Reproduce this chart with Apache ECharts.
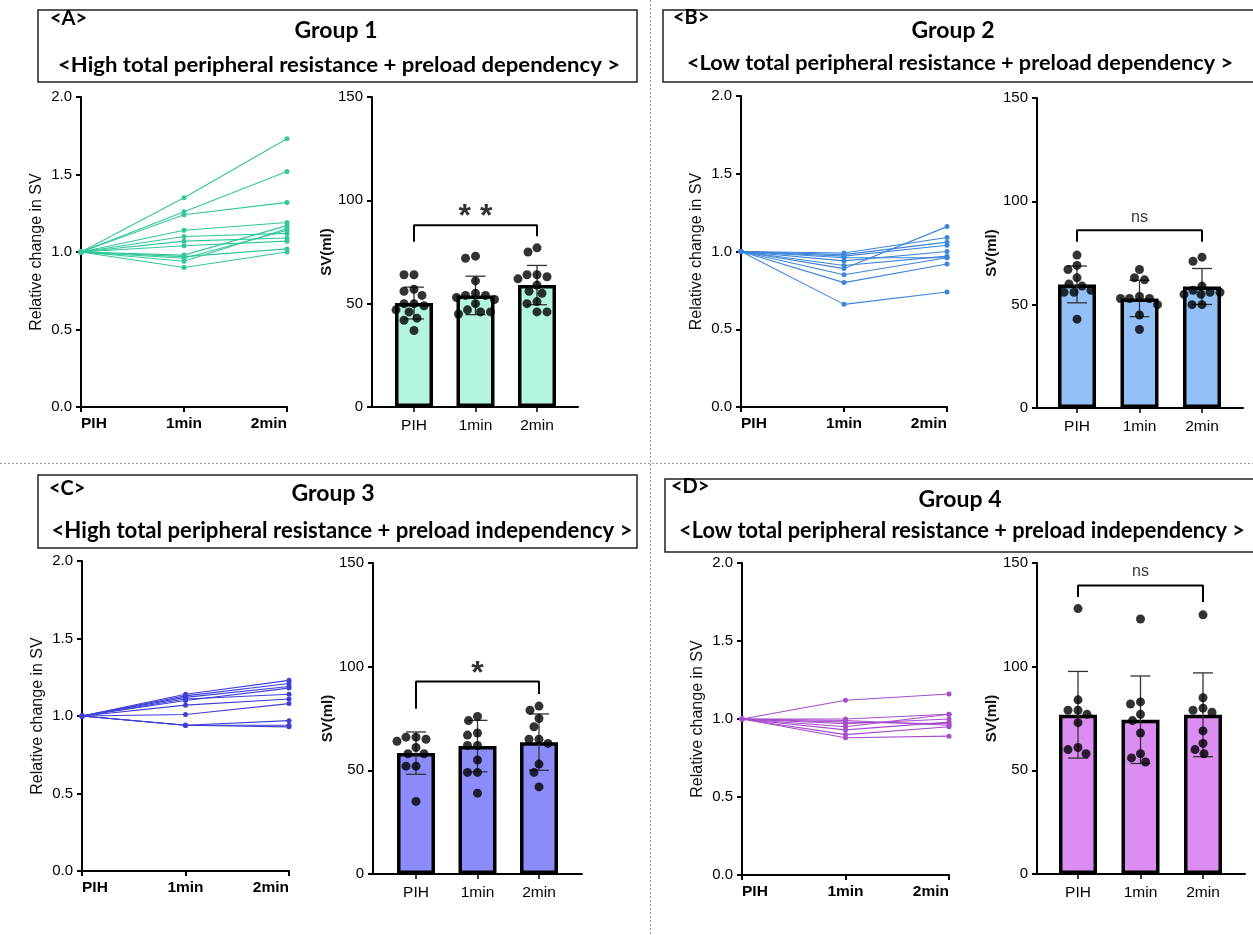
<!DOCTYPE html>
<html><head><meta charset="utf-8">
<script src="https://cdn.jsdelivr.net/npm/echarts@6/dist/echarts.min.js"></script>
<style>html,body{margin:0;padding:0;background:#fff}#c{width:1253px;height:935px}</style>
</head><body><div id="c"></div>
<script>
// ---------- DATA ----------
const timeCategories = ['PIH', '1min', '2min'];
const relTicks = [0, 0.5, 1.0, 1.5, 2.0];
const svTicks = [0, 50, 100, 150];

// Group 1 (A)
const g1Relative = [
  [1, 1.35, 1.73], [1, 1.26, 1.52], [1, 1.24, 1.32], [1, 1.14, 1.19],
  [1, 1.10, 1.12], [1, 1.07, 1.09], [1, 1.04, 1.07], [1, 0.98, 1.17],
  [1, 0.97, 1.02], [1, 0.96, 1.14], [1, 0.94, 1.15], [1, 0.90, 1.00]
];
const g1Means = [50.3, 54.0, 59.0];
const g1SD = [7.7, 9.3, 9.5];
const g1PIH = [64, 64, 57, 56, 54, 50, 50, 49, 47, 46, 43, 42, 37];
const g1Min1 = [73, 72, 61, 55, 54, 54, 53, 52, 50, 47, 46, 46, 45];
const g1Min2 = [77, 75, 64, 64, 63, 62, 59, 56, 55, 51, 50, 46, 46];
const g1Bracket = [80, 88, 82.6];
const g1Sig = '**';
const g1SigY = 95;

// Group 2 (B)
const g2Relative = [
  [1, 0.99, 1.09], [1, 0.98, 1.06], [1, 0.97, 1.04], [1, 0.96, 0.96],
  [1, 0.94, 1.00], [1, 0.91, 0.97], [1, 0.89, 1.16], [1, 0.85, 0.96],
  [1, 0.80, 0.92], [1, 0.66, 0.74]
];
const g2Means = [59.8, 53.0, 58.8];
const g2SD = [8.9, 8.8, 8.7];
const g2PIH = [74, 69, 67, 63, 60, 59, 57, 56, 56, 43];
const g2Min1 = [67, 63, 62, 54, 53, 53, 53, 50, 45, 38];
const g2Min2 = [73, 71, 59, 57, 56, 56, 55, 55, 50, 50];
const g2Bracket = [80.5, 86, 80.5];
const g2Sig = 'ns';
const g2SigY = 92;

// Group 3 (C)
const g3Relative = [
  [1, 1.14, 1.23], [1, 1.13, 1.21], [1, 1.12, 1.19], [1, 1.11, 1.14],
  [1, 1.10, 1.18], [1, 1.07, 1.11], [1, 1.01, 1.08], [1, 0.94, 0.97],
  [1, 0.94, 0.94], [1, 0.94, 0.93]
];
const g3Means = [58.3, 61.7, 63.6];
const g3SD = [10.2, 12.4, 13.6];
const g3PIH = [66, 66, 65, 64, 61, 58, 58, 52, 52, 35];
const g3Min1 = [76, 74, 68, 67, 62, 62, 55, 49, 49, 39];
const g3Min2 = [81, 79, 75, 71, 65, 65, 63, 53, 49, 42];
const g3Bracket = [79.7, 92.9, 86.8];
const g3Sig = '*';
const g3SigY = 99.7;

// Group 4 (D)
const g4Relative = [
  [1, 1.12, 1.16], [1, 1.00, 1.03], [1, 0.99, 0.96], [1, 0.97, 1.00],
  [1, 0.95, 1.03], [1, 0.93, 0.98], [1, 0.90, 0.95], [1, 0.88, 0.89],
  [1, 0.98, 0.97]
];
const g4Means = [76.8, 74.4, 76.8];
const g4SD = [20.9, 21.1, 20.2];
const g4PIH = [128, 84, 79, 79, 77, 73, 61, 60, 58];
const g4Min1 = [123, 83, 82, 77, 74, 68, 58, 56, 54];
const g4Min2 = [125, 85, 80, 79, 78, 69, 63, 60, 58];
const g4Bracket = [133.6, 139.2, 131.2];
const g4Sig = 'ns';
const g4SigY = 145.7;

const headerTags = ['<A>', '<B>', '<C>', '<D>'];
const headerTitles = ['Group 1', 'Group 2', 'Group 3', 'Group 4'];
const headerSubtitles = [
  '<High total peripheral resistance + preload dependency >',
  '<Low total peripheral resistance + preload dependency >',
  '<High total peripheral resistance + preload independency >',
  '<Low total peripheral resistance + preload independency >'
];
const relAxisName = 'Relative change in SV';
const svAxisName = 'SV(ml)';

// ---------- LAYOUT / STYLE ----------
const panels = [
  { rel: g1Relative, means: g1Means, sd: g1SD, dots: [g1PIH, g1Min1, g1Min2], bracket: g1Bracket, sig: g1Sig, sigY: g1SigY,
    lineColor: '#33c79a', barColor: '#b4f5de',
    line: { left: 81, top: 97, width: 206, height: 310 },
    bar: { axis: 372, right: 578, top: 97, height: 310, first: 414, step: 61.5 } },
  { rel: g2Relative, means: g2Means, sd: g2SD, dots: [g2PIH, g2Min1, g2Min2], bracket: g2Bracket, sig: g2Sig, sigY: g2SigY,
    lineColor: '#3d84da', barColor: '#93c0f6',
    line: { left: 741, top: 96, width: 206, height: 311 },
    bar: { axis: 1037, right: 1243, top: 98, height: 310, first: 1077, step: 62.5 } },
  { rel: g3Relative, means: g3Means, sd: g3SD, dots: [g3PIH, g3Min1, g3Min2], bracket: g3Bracket, sig: g3Sig, sigY: g3SigY,
    lineColor: '#3f3fd8', barColor: '#8b8cfa',
    line: { left: 82, top: 561, width: 207, height: 310 },
    bar: { axis: 373, right: 582, top: 563, height: 311, first: 416, step: 61.5 } },
  { rel: g4Relative, means: g4Means, sd: g4SD, dots: [g4PIH, g4Min1, g4Min2], bracket: g4Bracket, sig: g4Sig, sigY: g4SigY,
    lineColor: '#a64ccc', barColor: '#dc8df2',
    line: { left: 742, top: 563, width: 207, height: 312 },
    bar: { axis: 1037, right: 1245, top: 563, height: 311, first: 1078, step: 62.5 } }
];
const headers = [
  { box: [38, 10, 599, 72], tag: [50, 19], title: [336, 31], sub: [339, 66], subW: 562, subSize: 20 },
  { box: [663, 10, 610, 72], tag: [673, 18], title: [953, 31], sub: [960, 64], subW: 546, subSize: 20 },
  { box: [38, 475, 599, 73], tag: [49, 489], title: [333, 494], sub: [342, 531], subW: 581, subSize: 22 },
  { box: [665, 479, 610, 73], tag: [671, 487], title: [960, 500], sub: [962, 531], subW: 566, subSize: 22 }
];

const FONT = '"Liberation Sans", Arial, sans-serif';
const HFONT = 'Lato, "Open Sans", sans-serif';
const measureCtx = document.createElement('canvas').getContext('2d');
function fitScale(text, font, target) {
  measureCtx.font = font;
  return target / measureCtx.measureText(text).width;
}
// compact beeswarm offsets (pixels) for a column of dots, capped to the bar width
function swarm(vals, pxPerUnit, minDist, maxOff) {
  const order = vals.map((v, i) => i).sort((a, b) => vals[b] - vals[a]);
  const placed = [];
  const off = new Array(vals.length).fill(0);
  order.forEach(i => {
    const y = vals[i] * pxPerUnit;
    let best = 0, bestD = -1, found = false;
    for (let k = 0; k <= 2 * maxOff; k++) {
      const cand = k === 0 ? 0 : (k % 2 ? -1 : 1) * Math.ceil(k / 2);
      const d = placed.reduce((m, p) => Math.min(m, Math.hypot(p.x - cand, p.y - y)), Infinity);
      if (d >= minDist) { best = cand; found = true; break; }
      if (d > bestD) { bestD = d; best = cand; }
    }
    placed.push({ x: best, y }); off[i] = best;
  });
  return off;
}

const grid = [], xAxis = [], yAxis = [], series = [];
const axisLineStyle = { color: '#000', width: 2 };
const tickStyle = { color: '#000', width: 2 };

panels.forEach((p, pi) => {
  // ---- line chart ----
  const gL = grid.length;
  grid.push({ left: p.line.left, top: p.line.top, width: p.line.width, height: p.line.height, containLabel: false });
  xAxis.push({ gridIndex: gL, type: 'category', data: timeCategories, boundaryGap: false,
    axisLine: { lineStyle: axisLineStyle }, axisTick: { length: 5, lineStyle: tickStyle },
    axisLabel: { color: '#000', fontFamily: FONT, fontSize: 15.5, fontWeight: 'bold', margin: 9,
      alignMinLabel: 'left', alignMaxLabel: 'right' },
    splitLine: { show: false } });
  yAxis.push({ gridIndex: gL, type: 'value', min: relTicks[0], max: relTicks[relTicks.length - 1], interval: 0.5,
    axisLine: { show: true, lineStyle: axisLineStyle }, axisTick: { show: true, length: 5, lineStyle: tickStyle },
    axisLabel: { color: '#000', fontFamily: FONT, fontSize: 15, margin: 9, formatter: v => v.toFixed(1) },
    splitLine: { show: false },
    name: relAxisName, nameLocation: 'middle', nameGap: 36, nameRotate: 90,
    nameTextStyle: { color: '#111', fontFamily: FONT, fontSize: 16 } });
  const ax = xAxis.length - 1, ay = yAxis.length - 1;
  p.rel.forEach(row => {
    series.push({ type: 'line', xAxisIndex: ax, yAxisIndex: ay, data: row, symbol: 'circle', symbolSize: 5,
      lineStyle: { width: 1.1, color: p.lineColor }, itemStyle: { color: p.lineColor }, silent: true, animation: false });
  });

  // ---- bar chart: frame grid (axes lines) ----
  const b = p.bar;
  const gF = grid.length;
  grid.push({ left: b.axis, top: b.top, width: b.right - b.axis, height: b.height });
  xAxis.push({ gridIndex: gF, type: 'value', min: 0, max: 1, axisLine: { show: true, lineStyle: axisLineStyle },
    axisTick: { show: false }, axisLabel: { show: false }, splitLine: { show: false } });
  yAxis.push({ gridIndex: gF, type: 'value', min: 0, max: 150, interval: 50,
    axisLine: { show: true, lineStyle: axisLineStyle }, axisTick: { show: true, length: 5, lineStyle: tickStyle },
    axisLabel: { color: '#000', fontFamily: FONT, fontSize: 15, margin: 9 }, splitLine: { show: false },
    name: svAxisName, nameLocation: 'middle', nameGap: 22, nameRotate: 90,
    nameTextStyle: { color: '#111', fontFamily: FONT, fontSize: 15, fontWeight: 'bold' } });
  // ---- bar chart: data grid ----
  const gD = grid.length;
  grid.push({ left: b.first - b.step / 2, top: b.top, width: b.step * 3, height: b.height });
  xAxis.push({ gridIndex: gD, type: 'category', data: timeCategories, boundaryGap: true,
    axisLine: { show: false }, axisTick: { show: true, alignWithLabel: true, length: 5, lineStyle: { color: '#000', width: 1.5 } },
    axisLabel: { color: '#000', fontFamily: FONT, fontSize: 15.5, margin: 11 }, splitLine: { show: false } });
  yAxis.push({ gridIndex: gD, type: 'value', min: 0, max: 150, show: false, splitLine: { show: false } });
  const bx = xAxis.length - 1, by = yAxis.length - 1;
  series.push({ type: 'bar', xAxisIndex: bx, yAxisIndex: by, data: p.means, barWidth: 38,
    itemStyle: { color: p.barColor, borderColor: '#000', borderWidth: 3.5 }, animation: false, silent: true, z: 2 });
  series.push({ type: 'custom', xAxisIndex: bx, yAxisIndex: by, animation: false, silent: true, z: 3,
    data: p.means.map((m, i) => [i, m, p.sd[i]]),
    renderItem: (params, api) => {
      const i = api.value(0), m = api.value(1), s = api.value(2);
      const t = api.coord([i, m + s]), bt = api.coord([i, m - s]);
      const st = { stroke: '#333', lineWidth: 1.3 };
      return { type: 'group', children: [
        { type: 'line', shape: { x1: t[0], y1: t[1], x2: bt[0], y2: bt[1] }, style: st },
        { type: 'line', shape: { x1: t[0] - 10, y1: t[1], x2: t[0] + 10, y2: t[1] }, style: st },
        { type: 'line', shape: { x1: bt[0] - 10, y1: bt[1], x2: bt[0] + 10, y2: bt[1] }, style: st }
      ] };
    } });
  const pxPerUnit = b.height / 150;
  const dotData = [];
  p.dots.forEach((col, ci) => {
    const off = swarm(col, pxPerUnit, 9.5, 19);
    col.forEach((v, k) => dotData.push({ value: [ci, v], symbolOffset: [off[k], 0] }));
  });
  series.push({ type: 'scatter', xAxisIndex: bx, yAxisIndex: by, data: dotData, symbol: 'circle', symbolSize: 9,
    itemStyle: { color: '#000' }, animation: false, silent: true, z: 5 });
  // bracket
  series.push({ type: 'line', xAxisIndex: bx, yAxisIndex: by, symbol: 'none', animation: false, silent: true, z: 4,
    data: [[0, p.bracket[0]], [0, p.bracket[1]], [2, p.bracket[1]], [2, p.bracket[2]]],
    lineStyle: { color: '#000', width: 2 } });
  const isStar = p.sig.indexOf('*') >= 0;
  series.push({ type: 'scatter', xAxisIndex: bx, yAxisIndex: by, data: [[1, p.sigY]], symbolSize: 1,
    itemStyle: { color: 'transparent' }, animation: false, silent: true, z: 6,
    label: { show: true, position: 'inside', formatter: () => isStar ? p.sig.split('').join(' ') : p.sig,
      color: '#000', fontFamily: FONT, fontSize: isStar ? 32 : 16, fontWeight: isStar ? 'bold' : 'normal',
      offset: [0, isStar ? 7 : 0] } });
});

// ---------- graphics (headers, dividers) ----------
const graphic = [
  { type: 'line', shape: { x1: 650.5, y1: 0, x2: 650.5, y2: 935 }, style: { stroke: '#999', lineWidth: 1, lineDash: [2, 2] }, silent: true },
  { type: 'line', shape: { x1: 0, y1: 463.5, x2: 1253, y2: 463.5 }, style: { stroke: '#999', lineWidth: 1, lineDash: [2, 2] }, silent: true }
];
headers.forEach((h, i) => {
  graphic.push({ type: 'rect', shape: { x: h.box[0], y: h.box[1], width: h.box[2], height: h.box[3] },
    style: { fill: '#fff', stroke: '#222', lineWidth: 1.5 }, silent: true });
  graphic.push({ type: 'text', x: h.tag[0], y: h.tag[1], silent: true,
    style: { text: headerTags[i], font: 'bold 20px ' + HFONT, fill: '#000', textAlign: 'left', textVerticalAlign: 'middle' } });
  graphic.push({ type: 'text', x: h.title[0], y: h.title[1], silent: true,
    style: { text: headerTitles[i], font: 'bold 23px ' + HFONT, fill: '#000', textAlign: 'center', textVerticalAlign: 'middle' } });
  const sf = 'bold ' + h.subSize + 'px ' + HFONT;
  graphic.push({ type: 'text', x: h.sub[0], y: h.sub[1], silent: true, scaleX: fitScale(headerSubtitles[i], sf, h.subW),
    style: { text: headerSubtitles[i], font: sf, fill: '#000', textAlign: 'center', textVerticalAlign: 'middle' } });
});

const chart = echarts.init(document.getElementById('c'), null, { renderer: 'canvas', width: 1253, height: 935 });
chart.setOption({ animation: false, backgroundColor: '#fff', grid, xAxis, yAxis, series, graphic });
</script></body></html>
